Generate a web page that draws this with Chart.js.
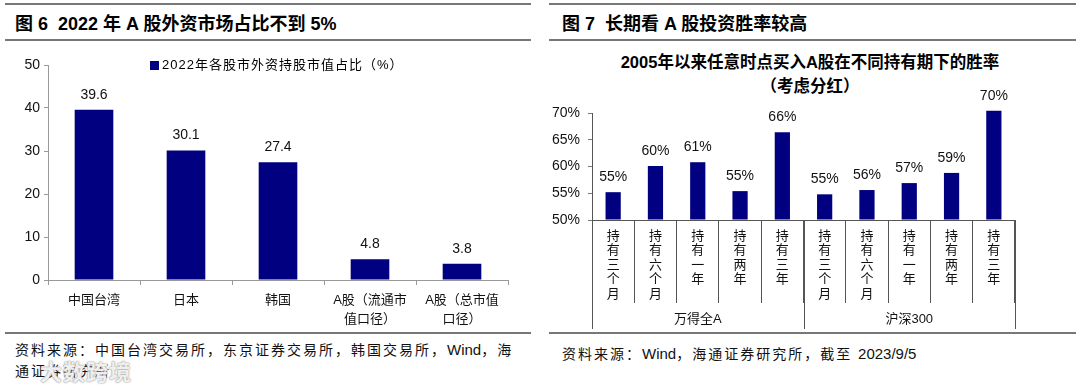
<!DOCTYPE html>
<html lang="zh">
<head>
<meta charset="UTF-8">
<title>图6 / 图7</title>
<script src="https://cdn.jsdelivr.net/npm/chart.js"></script>
<style>
  body {margin:0; width:1080px; height:386px; position:relative; overflow:hidden; background:#fff; color:#000;
        font-family:"Liberation Sans","Noto Sans CJK SC",sans-serif;}
  .rule {position:absolute; height:0; border-top:2px solid #777;}
  .ttl {position:absolute; top:12px; font-size:18px; line-height:24px; font-weight:bold; white-space:nowrap;}
  .src {position:absolute; font-size:14px; line-height:21px; letter-spacing:2px; color:#111; white-space:nowrap;}
  .src b {font-weight:normal; letter-spacing:0; font-size:15px;}
  .box {position:absolute;}
  #legend6 {position:absolute; left:150px; top:56px; font-size:13px; line-height:18px; letter-spacing:1px; white-space:nowrap;}
  #legend6 i {display:inline-block; width:9px; height:9px; background:#000080; margin-right:3px; vertical-align:-1px;}
  #sub7 {position:absolute; left:560px; width:500px; top:50px; text-align:center; font-size:16.5px; line-height:24px; font-weight:bold;}
  #wm {position:absolute; left:40px; top:354px; font-size:22px; font-weight:bold; color:rgba(255,255,255,0.85);
       text-shadow:0 0 2px #999, 0 0 1px #999; letter-spacing:1px;}
</style>
</head>
<body>

<div class="rule" style="left:5px; width:526px; top:3px"></div>
<div class="rule" style="left:5px; width:526px; top:39px"></div>
<div class="rule" style="left:5px; width:526px; top:332px"></div>
<div class="rule" style="left:549px; width:527px; top:3px"></div>
<div class="rule" style="left:549px; width:527px; top:39px"></div>
<div class="rule" style="left:549px; width:527px; top:332px"></div>

<div class="ttl" style="left:15px">图 6&nbsp; 2022 年 A 股外资市场占比不到 5%</div>
<div class="ttl" style="left:562px">图 7&nbsp; 长期看 A 股投资胜率较高</div>

<div class="box" style="left:0; top:45px"><canvas id="c6" width="520" height="290"></canvas></div>
<div id="legend6"><i></i>2022年各股市外资持股市值占比（%）</div>

<div id="sub7">2005年以来任意时点买入A股在不同持有期下的胜率<br>（考虑分红）</div>
<div class="box" style="left:548px; top:90px"><canvas id="c7" width="530" height="250"></canvas></div>

<div class="src" style="left:15px; top:339px">资料来源：中国台湾交易所，东京证券交易所，韩国交易所，<b>Wind</b>，海<br>通证券研究所</div>
<div class="src" style="left:562px; top:343px">资料来源：<b>Wind</b>，海通证券研究所，截至 <b>2023/9/5</b></div>
<div id="wm">大数跨境</div>

<script>
// 图6 数据
const marketCats = ['中国台湾', '日本', '韩国', ['A股（流通市', '值口径）'], ['A股（总市值', '口径）']];
const foreignShare = [39.6, 30.1, 27.4, 4.8, 3.8];

// 图7 数据
const holdPeriods = ['持有三个月', '持有六个月', '持有一年', '持有两年', '持有三年'];
const groupNames = ['万得全A', '沪深300'];
const windAWin = [55.2, 60.1, 60.8, 55.4, 66.4];
const hs300Win = [54.8, 55.6, 56.9, 58.8, 70.4];

const NAVY = '#000080';
const FONT = '"Liberation Sans", "Noto Sans CJK SC", sans-serif';

// 柱顶数值
const valueLabels = {
  id: 'valueLabels',
  afterDatasetsDraw(chart, args, opts) {
    const ctx = chart.ctx;
    chart.data.datasets.forEach((ds, i) => {
      chart.getDatasetMeta(i).data.forEach((bar, j) => {
        const v = ds.data[j];
        const txt = opts.percent ? Math.round(v) + '%' : v.toFixed(1);
        ctx.save();
        ctx.font = '14px ' + FONT;
        ctx.fillStyle = '#111';
        ctx.textAlign = 'center';
        ctx.textBaseline = 'middle';
        ctx.fillText(txt, bar.x, bar.y - 15);
        ctx.restore();
      });
    });
  }
};

// 图7 下方分组表格
const groupRows = {
  id: 'groupRows',
  afterDraw(chart) {
    const x = chart.scales.x, ctx = chart.ctx;
    const n = holdPeriods.length;
    const half = (x.getPixelForValue(1) - x.getPixelForValue(0)) / 2;
    const y0 = x.top, y1 = x.top + 109;
    ctx.save();
    ctx.strokeStyle = '#555';
    ctx.lineWidth = 1;
    for (let g = 0; g <= groupNames.length; g++) {
      let px = g === 0 ? x.left : g === groupNames.length ? x.right : x.getPixelForValue(g * n) - half;
      px = Math.round(px) + 0.5;
      ctx.beginPath(); ctx.moveTo(px, y0); ctx.lineTo(px, y1); ctx.stroke();
    }
    ctx.font = '13px ' + FONT;
    ctx.fillStyle = '#111';
    ctx.textAlign = 'center';
    ctx.textBaseline = 'middle';
    groupNames.forEach((name, g) => {
      const cx = (x.getPixelForValue(g * n) + x.getPixelForValue(g * n + n - 1)) / 2;
      ctx.fillText(name, cx, y0 + 99);
    });
    ctx.restore();
  }
};

new Chart(document.getElementById('c6'), {
  type: 'bar',
  data: {
    labels: marketCats,
    datasets: [{ label: '2022年各股市外资持股市值占比（%）', data: foreignShare, backgroundColor: NAVY,
                 barPercentage: 0.42, categoryPercentage: 1 }]
  },
  options: {
    responsive: false,
    animation: false,
    layout: { padding: { left: 0, right: 12, top: 20, bottom: 0 } },
    plugins: { legend: { display: false }, tooltip: { enabled: false }, valueLabels: { percent: false } },
    scales: {
      x: {
        grid: { drawOnChartArea: false, tickLength: 5, color: '#999', offset: true },
        border: { color: '#999' },
        ticks: { font: { size: 13, family: FONT, lineHeight: '19px' }, color: '#111', padding: 6, maxRotation: 0, autoSkip: false },
        afterFit: s => { s.height = 55; }
      },
      y: {
        min: 0, max: 50,
        grid: { drawOnChartArea: false, tickLength: 4, color: '#999' },
        border: { color: '#999' },
        ticks: { stepSize: 10, font: { size: 14, family: FONT }, color: '#111', padding: 4 },
        afterFit: s => { s.width = 48; }
      }
    }
  },
  plugins: [valueLabels]
});

const winLabels = [];
groupNames.forEach(() => holdPeriods.forEach(p => winLabels.push(Array.from(p))));

new Chart(document.getElementById('c7'), {
  type: 'bar',
  data: {
    labels: winLabels,
    datasets: [{ label: '胜率', data: windAWin.concat(hs300Win), backgroundColor: NAVY,
                 base: 50, barPercentage: 0.36, categoryPercentage: 1, clip: false }]
  },
  options: {
    responsive: false,
    animation: false,
    layout: { padding: { left: 0, right: 63, top: 23, bottom: 0 } },
    plugins: { legend: { display: false }, tooltip: { enabled: false }, valueLabels: { percent: true } },
    scales: {
      x: {
        grid: { drawOnChartArea: false, tickLength: 83, color: '#555', offset: true },
        border: { color: '#555' },
        ticks: { font: { size: 13, family: FONT, lineHeight: '14.5px' }, color: '#111', padding: -74, maxRotation: 0, autoSkip: false },
        afterFit: s => { s.height = 120; }
      },
      y: {
        min: 50, max: 70,
        grid: { drawOnChartArea: false, tickLength: 4, color: '#777' },
        border: { color: '#555' },
        ticks: { stepSize: 5, font: { size: 14, family: FONT }, color: '#111', padding: 8, callback: v => v + '%' },
        afterFit: s => { s.width = 44; }
      }
    }
  },
  plugins: [valueLabels, groupRows]
});
</script>
</body>
</html>
